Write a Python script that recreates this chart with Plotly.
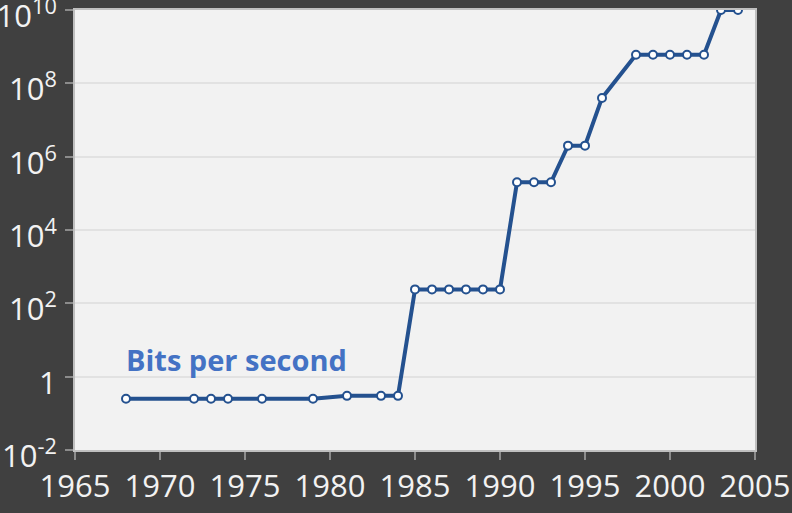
import plotly.graph_objects as go

years = [1968, 1972, 1973, 1974, 1976, 1979, 1981, 1983, 1984,
         1985, 1986, 1987, 1988, 1989, 1990,
         1991, 1992, 1993, 1994, 1995, 1996,
         1998, 1999, 2000, 2001, 2002, 2003, 2004]
bits_per_second = [0.25, 0.25, 0.25, 0.25, 0.25, 0.25, 0.3, 0.3, 0.3,
                   240, 240, 240, 240, 240, 240,
                   2e5, 2e5, 2e5, 2e6, 2e6, 4e7,
                   6e8, 6e8, 6e8, 6e8, 6e8, 1e10, 1e10]

y_tickvals = [1e-2, 1, 1e2, 1e4, 1e6, 1e8, 1e10]
y_ticktext = ['10<sup>-2</sup>', '1', '10<sup>2</sup>', '10<sup>4</sup>',
              '10<sup>6</sup>', '10<sup>8</sup>', '10<sup>10</sup>']
x_tickvals = [1965, 1970, 1975, 1980, 1985, 1990, 1995, 2000, 2005]

font_family = 'Open Sans, sans-serif'
line_blue = '#24518f'

fig = go.Figure()
fig.add_trace(go.Scatter(
    x=years, y=bits_per_second, mode='lines+markers',
    line=dict(color=line_blue, width=4),
    marker=dict(size=8, color='white', line=dict(color=line_blue, width=2)),
    hoverinfo='x+y', showlegend=False,
))

fig.add_annotation(
    x=1967.9, y=0.46, xref='x', yref='y', text='<b>Bits per second</b>',
    showarrow=False, xanchor='left', yanchor='middle',
    font=dict(family=font_family, size=29, color='#4472c4'),
)

fig.update_layout(
    width=792, height=513,
    margin=dict(l=75, r=37, t=10, b=63),
    paper_bgcolor='#404040', plot_bgcolor='#f2f2f2',
    font=dict(family=font_family, color='#f2f2f2', size=31),
)
fig.update_xaxes(
    range=[1965, 2005], tickvals=x_tickvals, showgrid=False, zeroline=False,
    showline=True, linecolor='#bfbfbf', linewidth=2, mirror=True,
    ticks='outside', ticklen=8, tickcolor='#8c8c8c', tickwidth=2,
    tickfont=dict(size=31, color='#f2f2f2'),
    automargin=False, ticklabeloverflow='allow',
)
fig.update_yaxes(
    type='log', range=[-2, 10], tickvals=y_tickvals, ticktext=y_ticktext,
    showgrid=True, gridcolor='#e2e2e2', gridwidth=1.5, zeroline=False,
    showline=True, linecolor='#bfbfbf', linewidth=2, mirror=True,
    ticks='outside', ticklen=8, tickcolor='#8c8c8c', tickwidth=2,
    tickfont=dict(size=31, color='#f2f2f2'),
    ticklabelshift=6, ticklabelstandoff=2,
    automargin=False, ticklabeloverflow='allow',
)

# the default page has an 8px body margin; drop it so the figure fills the window
fig.write_html('out.html', config={'displayModeBar': False},
               post_script="document.body.style.margin='0';")
